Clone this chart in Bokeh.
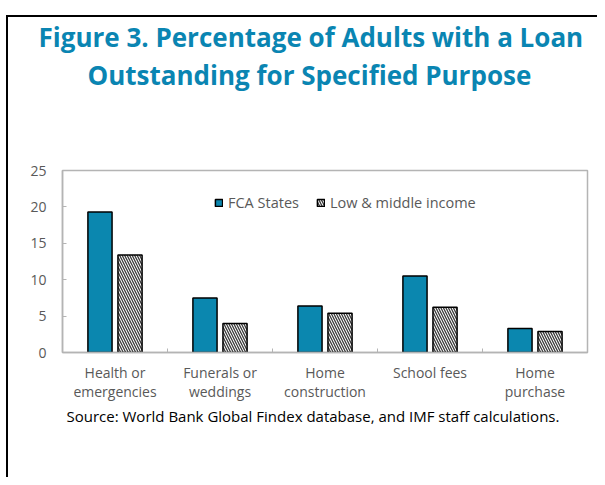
import numpy as np
from bokeh.plotting import figure
from bokeh.models import (Range1d, LinearAxis, FixedTicker, Legend, LegendItem, Title,
                          ColumnDataSource, InlineStyleSheet)
from bokeh.embed import file_html
from bokeh.resources import INLINE

categories = ["Health or\nemergencies", "Funerals or\nweddings", "Home\nconstruction",
              "School fees", "Home\npurchase"]
fca_states = [19.3, 7.5, 6.4, 10.5, 3.3]
low_middle = [13.4, 4.0, 5.4, 6.2, 2.9]
series_names = ["FCA States", "Low & middle income"]
y_ticks = [0, 5, 10, 15, 20, 25]
title_lines = ["Figure 3. Percentage of Adults with a Loan", "Outstanding for Specified Purpose"]
source_text = "Source: World Bank Global Findex database, and IMF staff calculations."

TEAL = "#0B87AF"
TITLE = "#0A85B2"
GREY_TXT = "#595959"
AXIS_GREY = "#B4B4B4"
FONT = "Open Sans"

W, H = 597, 477
FL, FR, FT, FB = 62, 587, 170, 352  # frame edges in canvas px

p = figure(width=W, height=H, output_backend="svg", toolbar_location=None,
           x_range=Range1d(0, len(categories)), y_range=Range1d(0, 25),
           x_axis_type=None, y_axis_type=None,
           min_border_left=FL, min_border_right=W - FR,
           min_border_top=FT, min_border_bottom=H - FB)
p.xgrid.visible = False
p.ygrid.visible = False
p.outline_line_color = AXIS_GREY
p.outline_line_width = 1.5
p.background_fill_color = "white"
p.border_fill_alpha = 0

idx = np.arange(len(categories))
centers = idx + 0.5
off = 0.143
bw = 0.23
src = ColumnDataSource(dict(x1=centers - off, x2=centers + off, fca=fca_states, lmi=low_middle))
r1 = p.vbar(x="x1", top="fca", width=bw, source=src, fill_color=TEAL,
            line_color="black", line_width=1.5)
r2 = p.vbar(x="x2", top="lmi", width=bw, source=src, fill_color="white",
            line_color="black", line_width=1.5, hatch_pattern="\\",
            hatch_color="#3a3a3a", hatch_scale=5, hatch_weight=1.3)

# axes
xaxis = LinearAxis(ticker=FixedTicker(ticks=list(centers), minor_ticks=list(idx[1:].astype(float))))
xaxis.major_label_overrides = {float(c): lab for c, lab in zip(centers, categories)}
xaxis.major_tick_line_color = None
xaxis.minor_tick_in = 4
xaxis.minor_tick_out = 0
xaxis.minor_tick_line_color = AXIS_GREY
xaxis.axis_line_color = AXIS_GREY
xaxis.axis_line_width = 1.5
xaxis.major_label_text_font = FONT
xaxis.major_label_text_font_size = "14px"
xaxis.major_label_text_color = GREY_TXT
xaxis.major_label_text_line_height = 1.0
xaxis.major_label_standoff = 4
p.add_layout(xaxis, "below")

yaxis = LinearAxis(ticker=FixedTicker(ticks=y_ticks))
yaxis.major_tick_in = 4
yaxis.major_tick_out = 0
yaxis.minor_tick_line_color = None
yaxis.major_tick_line_color = AXIS_GREY
yaxis.axis_line_color = AXIS_GREY
yaxis.axis_line_width = 1.5
yaxis.major_label_text_font = FONT
yaxis.major_label_text_font_size = "14px"
yaxis.major_label_text_color = GREY_TXT
yaxis.major_label_standoff = 16
p.add_layout(yaxis, "left")

# legend
legend = Legend(items=[LegendItem(label=series_names[0], renderers=[r1]),
                       LegendItem(label=series_names[1], renderers=[r2])],
                orientation="horizontal", location=(152, 140),
                glyph_width=9, glyph_height=9, label_standoff=5, spacing=17,
                padding=0, margin=0, border_line_color=None, background_fill_alpha=0,
                label_text_font=FONT, label_text_font_size="14.5px",
                label_text_color=GREY_TXT)
p.add_layout(legend, "center")

# titles: panels stack outward from the frame (spacer first)
p.add_layout(Title(text=" ", standoff=74.5, text_font_size="1px"), "above")
p.add_layout(Title(text=title_lines[1], align="left", offset=25, standoff=0,
                   text_font=FONT, text_font_style="bold", text_font_size="26px",
                   text_color=TITLE), "above")
p.add_layout(Title(text=title_lines[0], align="left", offset=-24, standoff=0,
                   text_font=FONT, text_font_style="bold", text_font_size="26px",
                   text_color=TITLE), "above")
p.add_layout(Title(text=source_text, align="left", offset=4, standoff=0,
                   text_font=FONT, text_font_style="normal", text_font_size="15px",
                   text_color="black"), "below")

# outer frame border (left and top edges, the rest lies outside the picture)
p.stylesheets = [InlineStyleSheet(css=""":host { position: relative; }
:host::after { content: ""; position: absolute; left: 6px; top: 15px; right: 0; bottom: 0;
  border-left: 2px solid black; border-top: 2px solid black; pointer-events: none; }""")]

open("out.html", "w").write(file_html(p, INLINE))
